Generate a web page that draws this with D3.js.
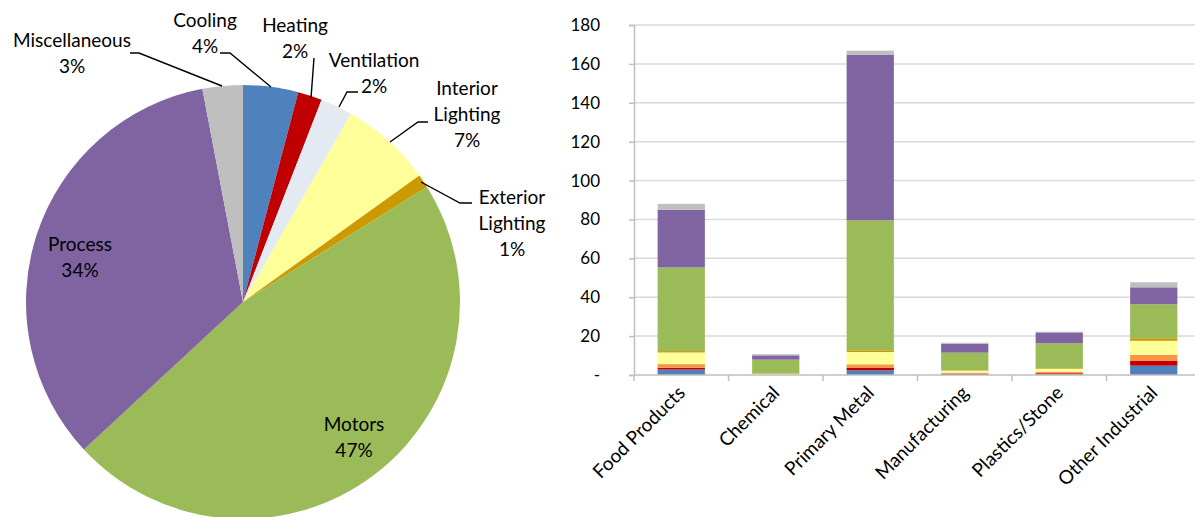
<!DOCTYPE html>
<html>
<head>
<meta charset="utf-8">
<script src="https://cdn.jsdelivr.net/npm/d3@7"></script>
<style>
  html, body { margin: 0; padding: 0; background: #fff; }
  svg { display: block; }
  text { font-family: Lato, "Open Sans", sans-serif; fill: #000; }
</style>
</head>
<body>
<svg id="chart" width="1195" height="517"></svg>
<script>
// End-use categories (pie order, clockwise from 12 o'clock)
const endUses = ["Cooling", "Heating", "Ventilation", "Interior Lighting",
                 "Exterior Lighting", "Motors", "Process", "Miscellaneous"];
// Share of total consumption, percent
const pieShares = [4.1, 1.8, 2.4, 6.8, 1.0, 47.0, 33.9, 3.0];
const pieColors = ["#4F81BD", "#C00000", "#E4EAF1", "#FFFF99",
                   "#CC9900", "#9BBB59", "#8064A2", "#BFBFBF"];
const barColors = ["#4F81BD", "#C00000", "#F79646", "#FFFF99",
                   "#CC9900", "#9BBB59", "#8064A2", "#BFBFBF"];

// Industry sectors
const sectors = ["Food Products", "Chemical", "Primary Metal",
                 "Manufacturing", "Plastics/Stone", "Other Industrial"];
// Consumption by end use in each sector (one array per end use, sector order)
const cooling      = [2.8, 0.0, 2.4, 0.2, 0.3, 4.8];
const heating      = [0.9, 0.0, 1.2, 0.5, 0.6, 2.4];
const ventilation  = [1.9, 0.1, 1.9, 0.5, 0.8, 3.1];
const interiorLt   = [6.0, 0.5, 6.3, 1.0, 1.4, 7.3];
const exteriorLt   = [0.7, 0.1, 0.9, 0.2, 0.3, 1.3];
const motors       = [43.0, 7.2, 66.9, 9.1, 12.9, 17.5];
const processUse   = [29.7, 2.2, 85.0, 4.6, 5.6, 8.7];
const miscUse      = [3.0, 0.6, 2.2, 0.5, 0.4, 2.6];
const yTicks = [0, 20, 40, 60, 80, 100, 120, 140, 160, 180];

const svg = d3.select("#chart");

// ---------- Pie ----------
const cx = 243, cy = 302, r = 217;
const pieData = endUses.map((k, i) => ({ key: k, value: pieShares[i], color: pieColors[i] }));
const arcs = d3.pie().sort(null).value(d => d.value).startAngle(0).endAngle(2 * Math.PI)(pieData);
const arcGen = d3.arc().innerRadius(0).outerRadius(r);
const pieG = svg.append("g").attr("transform", `translate(${cx},${cy})`);
pieG.selectAll("path").data(arcs).join("path")
  .attr("d", arcGen)
  .attr("fill", d => d.data.color);

const pct = v => Math.round(v) + "%";
// label layout: lines of text, anchor point, leader polyline (absolute coords)
const pieLabels = {
  "Miscellaneous":     { lines: ["Miscellaneous"], x: 72, y: 47, lead: [[130, 53], [139, 53], [222, 86]] },
  "Cooling":           { lines: ["Cooling"], x: 205, y: 27, lead: [[220, 53], [230, 53], [271, 87]] },
  "Heating":           { lines: ["Heating"], x: 295, y: 32, lead: [[314, 58], [311, 98]] },
  "Ventilation":       { lines: ["Ventilation"], x: 374, y: 67, lead: [[358, 92], [347, 92], [339, 107]] },
  "Interior Lighting": { lines: ["Interior", "Lighting"], x: 467, y: 95, lead: [[428, 122], [418, 122], [390, 142]] },
  "Exterior Lighting": { lines: ["Exterior", "Lighting"], x: 512, y: 204, lead: [[472, 203], [460, 203], [421, 182]] },
  "Process":           { lines: ["Process"], x: 80, y: 251, lead: null },
  "Motors":            { lines: ["Motors"], x: 354, y: 431, lead: null }
};
const lineH = 26;
arcs.forEach(a => {
  const L = pieLabels[a.data.key];
  const t = svg.append("text").attr("text-anchor", "middle").style("font-size", "19px");
  L.lines.concat([pct(a.data.value)]).forEach((s, i) => {
    t.append("tspan").attr("x", L.x).attr("y", L.y + i * lineH).text(s);
  });
  if (L.lead) {
    svg.append("path")
      .attr("d", d3.line()(L.lead))
      .attr("fill", "none").attr("stroke", "#000").attr("stroke-width", 1.4);
  }
});

// ---------- Stacked bars ----------
const seriesVals = [cooling, heating, ventilation, interiorLt, exteriorLt, motors, processUse, miscUse];
const rows = sectors.map((s, j) => {
  const o = { sector: s };
  endUses.forEach((k, i) => { o[k] = seriesVals[i][j]; });
  return o;
});
const stack = d3.stack().keys(endUses)(rows);

const x0 = 634, x1 = 1201, yTop = 25, yBot = 375;
const x = d3.scaleBand().domain(sectors).range([x0, x1]).paddingInner(0.5).paddingOuter(0.25);
const y = d3.scaleLinear().domain([0, 180]).range([yBot, yTop]);

// gridlines
svg.append("g").selectAll("line").data(yTicks.filter(t => t > 0)).join("line")
  .attr("x1", x0).attr("x2", x1)
  .attr("y1", d => y(d)).attr("y2", d => y(d))
  .attr("stroke", "#D9D9D9").attr("stroke-width", 1.5);

// bars
svg.append("g").selectAll("g").data(stack).join("g")
  .attr("fill", (d, i) => barColors[i])
  .selectAll("rect").data(d => d).join("rect")
  .attr("x", d => x(d.data.sector))
  .attr("width", x.bandwidth())
  .attr("y", d => y(d[1]))
  .attr("height", d => Math.max(0, y(d[0]) - y(d[1])));

// y axis
const yAxis = d3.axisLeft(y).tickValues(yTicks).tickSize(5)
  .tickFormat(d => d === 0 ? "-" : d);
const yg = svg.append("g").attr("transform", `translate(${x0},0)`).call(yAxis);
yg.select(".domain").attr("stroke", "#BFBFBF").attr("stroke-width", 1.5);
yg.selectAll(".tick line").attr("stroke", "#BFBFBF").attr("stroke-width", 1.5);
yg.selectAll(".tick text").attr("x", -34).style("font-size", "17px")
  .style("font-family", "Lato, 'Open Sans', sans-serif").attr("fill", "#000");

// x axis baseline + category dividers
svg.append("line").attr("x1", x0).attr("x2", x1).attr("y1", yBot).attr("y2", yBot)
  .attr("stroke", "#BFBFBF").attr("stroke-width", 1.5);
const step = x.step();
svg.append("g").selectAll("line").data(d3.range(sectors.length + 1)).join("line")
  .attr("x1", i => x0 + i * step).attr("x2", i => x0 + i * step)
  .attr("y1", yBot).attr("y2", yBot + 6)
  .attr("stroke", "#BFBFBF").attr("stroke-width", 1.5);

// category labels, rotated
svg.append("g").selectAll("text").data(sectors).join("text")
  .attr("transform", d => `translate(${x(d) + x.bandwidth() / 2 + 5},${yBot + 19}) rotate(-45)`)
  .attr("text-anchor", "end")
  .style("font-size", "19px")
  .text(d => d);
</script>
</body>
</html>
